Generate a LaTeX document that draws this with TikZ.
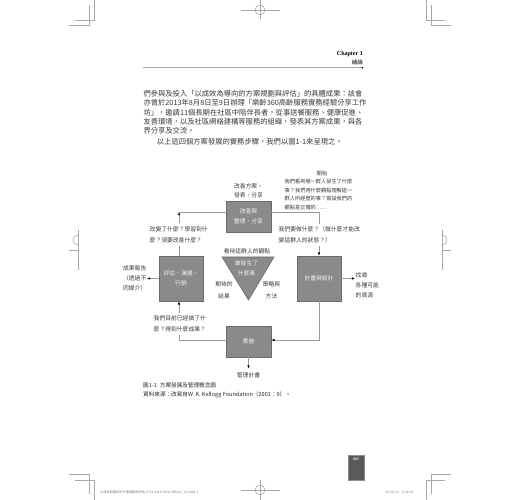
\documentclass[tikz,border=0pt]{standalone}
\usepackage{fontspec}
\setmainfont{Liberation Serif}
\newfontfamily\cjk{Noto Sans CJK TC}
\usetikzlibrary{arrows.meta}
\definecolor{boxfill}{HTML}{8A8A8A}
\definecolor{boxline}{HTML}{6A6A6A}
\definecolor{lin}{HTML}{9A9A9A}
\definecolor{txt}{HTML}{3A3A3A}
\definecolor{crop}{HTML}{A8A8A8}
\tikzset{
 box/.style={draw=boxline, fill=boxfill, line width=0.6pt, text=white!88!gray,
   font=\cjk\fontsize{5.8}{9.5}\selectfont, align=center, inner sep=0pt},
 lbl/.style={font=\cjk\fontsize{5.8}{10}\selectfont, text=txt, inner sep=0.5pt},
 wl/.style={lbl, fill=white, align=left, inner ysep=3pt},
 conn/.style={draw=lin, line width=0.8pt},
 arr/.style={conn, -{Latex[length=3.2pt,width=2.6pt,black]}},
 body/.style={font=\cjk\fontsize{7.3}{9.6}\selectfont, text=black!78, anchor=west, inner sep=0pt},
 cropl/.style={draw=crop, line width=0.6pt},
}
\begin{document}
\begin{tikzpicture}[x=1pt,y=-1pt]
\useasboundingbox (0,0) rectangle (520,500);

% crop and registration marks
\draw[cropl] (75,20) -- (94,20) -- (94,0);
\draw[cropl] (69,25) -- (89,25) -- (89,5);
\draw[cropl] (445,20) -- (426,20) -- (426,0);
\draw[cropl] (451,25) -- (431,25) -- (431,5);
\draw[cropl] (75,480) -- (94,480) -- (94,500);
\draw[cropl] (69,474) -- (89,474) -- (89,494);
\draw[cropl] (445,480) -- (426,480) -- (426,500);
\draw[cropl] (451,474) -- (431,474) -- (431,494);
\draw[cropl] (241,10) -- (280,10); \draw[cropl] (260,0) -- (260,19); \draw[cropl] (260,10) circle (5);
\draw[cropl] (241,490) -- (280,490); \draw[cropl] (260,480) -- (260,500); \draw[cropl] (260,490) circle (5);
\draw[cropl] (69,250) -- (78,250); \draw[cropl, line width=1pt] (78,230) -- (78,270);
\draw[cropl] (78,245) arc[start angle=90, end angle=270, radius=5];
\draw[cropl] (442,250) -- (451,250); \draw[cropl, line width=1pt] (442,230) -- (442,270);
\draw[cropl] (442,245) arc[start angle=90, end angle=-90, radius=5];

% header
\node[anchor=east, inner sep=0pt, font=\bfseries\fontsize{6}{7}\selectfont] (chap) at (363,54.5) {Chapter 1};
\node[anchor=east, inner sep=0pt, font=\cjk\fontsize{5.5}{7}\selectfont] (chapt) at (363,62) {緒論};
\draw[draw=black!35, line width=1pt] (143,67.7) -- (362,67.7);
\fill (362.5,67.7) circle (0.9);

% body text
\node[body] (l1) at (143.3,93.3) {們參與及投入「以成效為導向的方案規劃與評估」的具體成果：該會};
\node[body] (l2) at (143.3,102.7) {亦曾於2013年8月8日至9日辦理「樂齡360高齡服務實務經驗分享工作};
\node[body] (l3) at (143.3,112.3) {坊」，邀請11個長期在社區中陪伴長者，從事送餐服務、健康促進、};
\node[body] (l4) at (143.3,122) {友善環境，以及社區網絡建構等服務的組織，發表其方案成果，與各};
\node[body] (l5) at (143.3,131) {界分享及交流。};
\node[body] (l6) at (156.7,141.3) {以上這四個方案發展的實務步驟，我們以圖1-1來呈現之。};

% diagram boxes
\node[box, minimum width=45pt, minimum height=31pt] (improve) at (248.5,216.5) {改善與\\整理、分享};
\node[box, minimum width=44pt, minimum height=45pt] (evaluate) at (181,278.5) {評估、溝通、\\行銷};
\node[box, minimum width=44pt, minimum height=45pt] (plan) at (319,278.5) {計畫與設計};
\node[box, minimum width=45pt, minimum height=31pt] (implement) at (248.5,341.5) {實施};

% triangle
\draw[draw=boxline, fill=boxfill, line width=0.6pt] (222,257) -- (274,257) -- (248.5,300) -- cycle;

\coordinate (ctl) at (179,212);
\coordinate (ctr) at (319,212);
\coordinate (cbr) at (319,340);
\coordinate (cbl) at (179,340);

\draw[conn] (improve.west |- ctl) -- (ctl);
\draw[arr] (evaluate.north -| ctl) -- (ctl);
\draw[arr] (improve.east |- ctr) -- (ctr) -- (plan.north);
\draw[arr] (plan.south) -- (cbr) -- (implement.east |- cbr);
\draw[arr] (implement.west |- cbl) -- (cbl) -- (evaluate.south -| cbl);

% labels cutting the connectors
\node[wl, anchor=west, font=\cjk\fontsize{5.8}{10.7}\selectfont] (q1) at (149,234.5) {改變了什麼？學習到什\\麼？須要改善什麼？};
\node[wl, anchor=west, font=\cjk\fontsize{5.8}{10.5}\selectfont] (q2) at (278,235) {我們要做什麼？（做什麼才能改\\變這群人的狀態？）};
\node[wl, anchor=west, font=\cjk\fontsize{5.8}{10.5}\selectfont] (q3) at (153,324) {我們目前已經做了什\\麼？得到什麼成果？};

% other labels
\node[lbl, align=center, font=\cjk\fontsize{5.8}{9}\selectfont] (pub) at (248.5,190.5) {改善方案、\\發表、分享};
\node[lbl, font=\cjk\fontsize{5.3}{6}\selectfont] (start) at (322,173.5) {開始};
\node[lbl, anchor=west, align=left, font=\cjk\fontsize{5.2}{8.8}\selectfont] (startq) at (284,194.6) {我們看到哪一群人發生了什麼\\事？我們用什麼觀點理解這一\\群人所經歷的事？假設我們的\\觀點是正確的……};
\node[lbl] (view) at (247,251) {看待這群人的觀點};
\node[lbl, align=center, text=white!88!gray, font=\cjk\fontsize{5.8}{10}\selectfont] (what) at (246.5,268) {誰發生了\\什麼事};
\node[lbl, align=center, font=\cjk\fontsize{5.8}{11.7}\selectfont] (expect) at (224,290) {期待的\\結果};
\node[lbl, align=center, font=\cjk\fontsize{5.8}{11.7}\selectfont] (strategy) at (271.5,290) {策略與\\方法};

\node[lbl, anchor=east, align=left, font=\cjk\fontsize{5.8}{9.7}\selectfont] (report) at (147,278.3) {成果報告\\（透過不\\同媒介）};
\draw[arr] (evaluate.west) -- (report.east |- evaluate.west);
\node[lbl, anchor=west, align=left, font=\cjk\fontsize{5.8}{9.7}\selectfont] (resource) at (355,285.3) {找尋\\各種可能\\的資源};
\draw[arr] (plan.east) -- (plan.east -| resource.west);
\node[lbl] (mgmt) at (248.5,375) {管理計畫};
\draw[arr] (implement.south) -- ([yshift=3pt]mgmt.north);

% caption
\node[anchor=west, inner sep=0pt, font=\cjk\fontsize{5.6}{7}\selectfont, text=black!85] (cap1) at (143,385) {圖1-1\hspace{3pt}方案發展及管理概念圖};
\node[anchor=west, inner sep=0pt, font=\cjk\fontsize{5.6}{7}\selectfont, text=black!85] (cap2) at (143,395) {資料來源：改寫自W. K. Kellogg Foundation（2001：9）。};

% page number
\node[fill=black!65, draw=black!45, line width=0.5pt, minimum width=16pt, minimum height=25pt, anchor=north west, inner sep=0pt] (pg) at (348,455) {};
\node[inner sep=0pt, text=white, font=\bfseries\itshape\fontsize{4}{4}\selectfont] (pgn) at (356,459.5) {001};

% footer
\node[anchor=west, inner sep=0pt, text=black!55, font=\cjk\fontsize{3.2}{4}\selectfont] (f1) at (100,492) {以成效為導向的方案規劃與評估-0713-2013-000b-3校(ve1\_G).indd\ \ 1};
\node[anchor=west, inner sep=0pt, text=black!55, font=\fontsize{3.4}{4}\selectfont] (f2) at (385,492) {2013/2/13\ \ \ 11:26:05};
\end{tikzpicture}
\end{document}
